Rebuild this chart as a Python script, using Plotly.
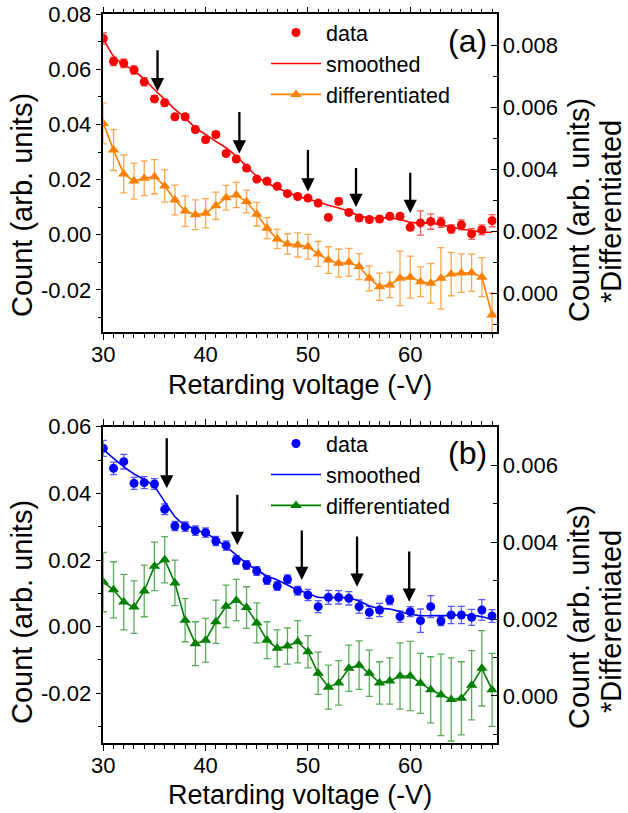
import numpy as np
import plotly.graph_objects as go

# ---------------- data ----------------
voltage = list(range(30, 69))

# panel (a)
count_a = [0.0712, 0.0629, 0.0622, 0.0598, 0.0555, 0.0493, 0.0479, 0.0428, 0.0428, 0.0382,
           0.0345, 0.0364, 0.0295, 0.0275, 0.0242, 0.0202, 0.0194, 0.0176, 0.0149, 0.0139,
           0.0133, 0.0115, 0.0063, 0.0121, 0.0081, 0.0061, 0.0055, 0.0057, 0.0067, 0.0067,
           0.0027, 0.0043, 0.0048, 0.0045, 0.0021, 0.0036, 0.0003, 0.0018, 0.0051]
count_err_a = [0.0021, 0.0015, 0.0015, 0.0015, 0.0015, 0.0012, 0.0012, 0.0011, 0.0011, 0.0011,
               0.0011, 0.0010, 0.0010, 0.0010, 0.0009, 0.0009, 0.0009, 0.0009, 0.0009, 0.0009,
               0.0010, 0.0010, 0.0010, 0.0012, 0.0010, 0.0012, 0.0010, 0.0010, 0.0010, 0.0010,
               0.0010, 0.0044, 0.0028, 0.0018, 0.0015, 0.0018, 0.0020, 0.0018, 0.0022]
smooth_a = [0.0712, 0.0648, 0.0618, 0.0596, 0.0564, 0.0527, 0.0491, 0.0455, 0.0424, 0.0388,
            0.0364, 0.0339, 0.0315, 0.0285, 0.0248, 0.0212, 0.0188, 0.0170, 0.0154, 0.0139,
            0.0130, 0.0120, 0.0107, 0.0097, 0.0085, 0.0069, 0.0061, 0.0061, 0.0061, 0.0055,
            0.0045, 0.0043, 0.0043, 0.0036, 0.0028, 0.0021, 0.0015, 0.0010, 0.0009]
diff_a = [0.00548, 0.00462, 0.00385, 0.00362, 0.00371, 0.00376, 0.00346, 0.00301, 0.00265, 0.00253,
          0.00258, 0.00282, 0.00308, 0.00317, 0.00296, 0.00255, 0.00210, 0.00175, 0.00159, 0.00156,
          0.00150, 0.00127, 0.00107, 0.00097, 0.00100, 0.00086, 0.00048, 0.00021, 0.00027, 0.00048,
          0.00052, 0.00037, 0.00032, 0.00048, 0.00062, 0.00065, 0.00066, 0.00052, -0.00070]
diff_err_a = [0.00066, 0.00066, 0.00061, 0.00058, 0.00056, 0.00055, 0.00052, 0.00048, 0.00049, 0.00048,
              0.00047, 0.00044, 0.00040, 0.00041, 0.00037, 0.00038, 0.00034, 0.00031, 0.00033, 0.00039,
              0.00040, 0.00040, 0.00043, 0.00045, 0.00045, 0.00042, 0.00040, 0.00044, 0.00041, 0.00088,
              0.00068, 0.00048, 0.00064, 0.00099, 0.00070, 0.00062, 0.00060, 0.00063, 0.00070]
arrow_x_a = [35.3, 43.3, 50.0, 54.7, 60.0]
arrow_tail_a = [0.0675, 0.0451, 0.0313, 0.0248, 0.0230]
arrow_tip_a = [0.0521, 0.0295, 0.0157, 0.0101, 0.0079]

# panel (b)
count_b = [0.0535, 0.0475, 0.0495, 0.0430, 0.0432, 0.0428, 0.0352, 0.0302, 0.0300, 0.0288,
           0.0282, 0.0257, 0.0243, 0.0200, 0.0185, 0.0167, 0.0140, 0.0122, 0.0142, 0.0108,
           0.0095, 0.0060, 0.0088, 0.0088, 0.0085, 0.0060, 0.0043, 0.0050, 0.0080, 0.0030,
           0.0045, 0.0018, 0.0060, 0.0017, 0.0035, 0.0035, 0.0028, 0.0050, 0.0032]
count_err_b = [0.0024, 0.0019, 0.0022, 0.0018, 0.0018, 0.0016, 0.0016, 0.0014, 0.0014, 0.0014,
               0.0014, 0.0014, 0.0014, 0.0013, 0.0013, 0.0013, 0.0013, 0.0013, 0.0013, 0.0013,
               0.0017, 0.0018, 0.0021, 0.0020, 0.0020, 0.0020, 0.0018, 0.0020, 0.0014, 0.0017,
               0.0015, 0.0035, 0.0033, 0.0014, 0.0026, 0.0026, 0.0024, 0.0031, 0.0019]
smooth_b = [0.0532, 0.0505, 0.0480, 0.0458, 0.0442, 0.0420, 0.0375, 0.0330, 0.0305, 0.0292,
            0.0280, 0.0262, 0.0240, 0.0215, 0.0190, 0.0170, 0.0152, 0.0140, 0.0125, 0.0110,
            0.0100, 0.0088, 0.0087, 0.0088, 0.0086, 0.0077, 0.0062, 0.0055, 0.0053, 0.0045,
            0.0038, 0.0033, 0.0033, 0.0033, 0.0034, 0.0035, 0.0034, 0.0030, 0.0022]
diff_b = [0.00296, 0.00276, 0.00244, 0.00231, 0.00273, 0.00337, 0.00354, 0.00294, 0.00197, 0.00136,
          0.00145, 0.00193, 0.00233, 0.00249, 0.00230, 0.00190, 0.00145, 0.00124, 0.00130, 0.00141,
          0.00115, 0.00059, 0.00023, 0.00034, 0.00072, 0.00080, 0.00059, 0.00034, 0.00039, 0.00052,
          0.00052, 0.00033, 0.00016, 0.00003, -0.00009, -0.00006, 0.00028, 0.00072, 0.00016]
diff_err_b = [0.00077, 0.00073, 0.00072, 0.00068, 0.00067, 0.00063, 0.00060, 0.00059, 0.00056, 0.00057,
              0.00057, 0.00056, 0.00055, 0.00054, 0.00054, 0.00052, 0.00048, 0.00048, 0.00047, 0.00055,
              0.00042, 0.00055, 0.00057, 0.00058, 0.00060, 0.00063, 0.00060, 0.00055, 0.00060, 0.00086,
              0.00090, 0.00078, 0.00086, 0.00106, 0.00108, 0.00095, 0.00090, 0.00098, 0.00095]
arrow_x_b = [36.2, 43.1, 49.4, 54.8, 59.9]
arrow_tail_b = [0.0570, 0.0400, 0.0293, 0.0275, 0.0230]
arrow_tip_b = [0.0415, 0.0245, 0.0140, 0.0120, 0.0075]

left_ticks_a = [-0.02, 0.0, 0.02, 0.04, 0.06, 0.08]
left_ticks_b = [-0.02, 0.0, 0.02, 0.04, 0.06]
right_ticks_a = [0.0, 0.002, 0.004, 0.006, 0.008]
right_ticks_b = [0.0, 0.002, 0.004, 0.006]
x_ticks = [30, 40, 50, 60]

x_title = "Retarding voltage (-V)"
y_title = "Count (arb. units)"
y2_title_lines = ["Count (arb. units)", "*Differentiated"]

# ---------------- figure ----------------
W, H = 628, 813
FONT = "Liberation Sans, Arial, sans-serif"
TICKF = 22
TITLEF = 27
VTITLEF = 29

fig = go.Figure()

def add_panel(xa, yl, yr, leg, cnt, cerr, smo, dif, derr, c_main, c_err, c_diff, c_derr):
    fig.add_trace(go.Scatter(
        x=voltage, y=cnt, mode="markers", name="data", xaxis=xa, yaxis=yl, legend=leg,
        marker=dict(symbol="circle", size=9, color=c_main),
        error_y=dict(type="data", array=cerr, color=c_err, thickness=1.3, width=3.5)))
    fig.add_trace(go.Scatter(
        x=voltage, y=smo, mode="lines", name="smoothed", xaxis=xa, yaxis=yl, legend=leg,
        line=dict(color=c_main, width=1.6, shape="spline", smoothing=0.6)))
    fig.add_trace(go.Scatter(
        x=voltage, y=dif, mode="lines+markers", name="differentiated", xaxis=xa, yaxis=yr,
        legend=leg, line=dict(color=c_diff, width=1.6),
        marker=dict(symbol="triangle-up", size=10, color=c_diff),
        error_y=dict(type="data", array=derr, color=c_derr, thickness=1.3, width=3.5)))

add_panel("x", "y", "y2", "legend", count_a, count_err_a, smooth_a, diff_a, diff_err_a,
          "#ff0000", "rgba(255,0,0,0.65)", "#ff8000", "rgba(255,128,0,0.7)")
add_panel("x2", "y3", "y4", "legend2", count_b, count_err_b, smooth_b, diff_b, diff_err_b,
          "#0000ff", "rgba(0,0,255,0.65)", "#008000", "rgba(0,128,0,0.65)")

def px_x(p):
    return p / W

def px_y(p):
    return 1 - p / H

xdom = [px_x(103.3), px_x(496.7)]
ydom_a = [px_y(332.3), px_y(14.3)]
ydom_b = [px_y(743.3), px_y(426.7)]

def xaxis_cfg(anchor):
    return dict(domain=xdom, anchor=anchor, range=[30, 68.45], automargin=False,
                tickvals=x_ticks, ticktext=[str(v) for v in x_ticks],
                ticks="outside", ticklen=6, tickwidth=1.3, tickcolor="black",
                ticklabelstandoff=-4,
                minor=dict(tickvals=list(range(30, 69)), ticks="outside", ticklen=3.5,
                           tickwidth=1, tickcolor="black"),
                showline=True, linecolor="black", linewidth=1.5, mirror="ticks",
                showgrid=False, zeroline=False,
                tickfont=dict(size=TICKF, family=FONT, color="black"))

def yleft_cfg(dom, anchor, rng, tv):
    return dict(domain=dom, anchor=anchor, range=rng, automargin=False,
                tickvals=tv, ticktext=[f"{v:.2f}" for v in tv],
                ticks="outside", ticklen=6, tickwidth=1.3, tickcolor="black",
                minor=dict(tickvals=[round(v, 3) for v in np.arange(-0.03, 0.081, 0.01)],
                           ticks="outside", ticklen=3.5, tickwidth=1, tickcolor="black"),
                showline=True, linecolor="black", linewidth=1.5, mirror=False,
                showgrid=False, zeroline=False,
                tickfont=dict(size=TICKF, family=FONT, color="black"))

def yright_cfg(over, anchor, rng, tv):
    return dict(overlaying=over, anchor=anchor, side="right", range=rng, automargin=False,
                tickvals=tv, ticktext=[f"{v:.3f}" for v in tv],
                ticks="inside", ticklen=6, tickwidth=1.3, tickcolor="black",
                minor=dict(tickvals=[round(v, 4) for v in np.arange(-0.001, 0.0091, 0.001)],
                           ticks="inside", ticklen=3.5, tickwidth=1, tickcolor="black"),
                showline=True, linecolor="black", linewidth=1.5,
                showgrid=False, zeroline=False,
                tickfont=dict(size=TICKF, family=FONT, color="black"))

annotations = []
def add_arrows(xs, tails, tips, xref, yref):
    for xv, t0, t1 in zip(xs, tails, tips):
        annotations.append(dict(x=xv, y=t1, ax=xv, ay=t0, xref=xref, yref=yref,
                                axref=xref, ayref=yref, text="", showarrow=True,
                                arrowhead=2, arrowsize=1.15, arrowwidth=2.3,
                                arrowcolor="black", standoff=0))

add_arrows(arrow_x_a, arrow_tail_a, arrow_tip_a, "x", "y")
add_arrows(arrow_x_b, arrow_tail_b, arrow_tip_b, "x2", "y3")

def text_at(text, xc, yc, size, angle=0):
    annotations.append(dict(text=text, x=px_x(xc), y=px_y(yc), xref="paper", yref="paper",
                            showarrow=False, textangle=angle, xanchor="center",
                            yanchor="middle", borderpad=0,
                            font=dict(size=size, family=FONT, color="black")))

# axis titles
text_at(x_title, 300, 385, TITLEF)
text_at(x_title, 300, 795, TITLEF)
text_at(y_title, 22, 205, VTITLEF, -90)
text_at(y_title, 22, 612, VTITLEF, -90)
text_at(y2_title_lines[0], 579, 210, VTITLEF, -90)
text_at(y2_title_lines[1], 611, 212, VTITLEF, -90)
text_at(y2_title_lines[0], 579, 617, VTITLEF, -90)
text_at(y2_title_lines[1], 611, 622, VTITLEF, -90)

# panel labels
text_at("(a)", 468, 41, 32)
text_at("(b)", 468, 453, 32)

legend_common = dict(xanchor="left", yanchor="top", bgcolor="rgba(0,0,0,0)",
                     font=dict(size=21.5, family=FONT, color="black"), itemwidth=50,
                     tracegroupgap=0)

fig.update_layout(
    width=W, height=H,
    margin=dict(l=0, r=0, t=0, b=0),
    paper_bgcolor="white", plot_bgcolor="white",
    font=dict(family=FONT, color="black"),
    xaxis=xaxis_cfg("y"),
    yaxis=yleft_cfg(ydom_a, "x", [-0.0354, 0.08], left_ticks_a),
    yaxis2=yright_cfg("y", "x", [-0.00126, 0.0090], right_ticks_a),
    xaxis2=xaxis_cfg("y3"),
    yaxis3=yleft_cfg(ydom_b, "x2", [-0.035, 0.06], left_ticks_b),
    yaxis4=yright_cfg("y3", "x2", [-0.00123, 0.0070], right_ticks_b),
    legend=dict(x=px_x(266), y=px_y(12), **legend_common),
    legend2=dict(x=px_x(266), y=px_y(423), **legend_common),
    annotations=annotations,
    showlegend=True,
)

fig.write_html("out.html", config={"displayModeBar": False},
               post_script="document.body.style.margin='0px';document.body.style.overflow='hidden';")
